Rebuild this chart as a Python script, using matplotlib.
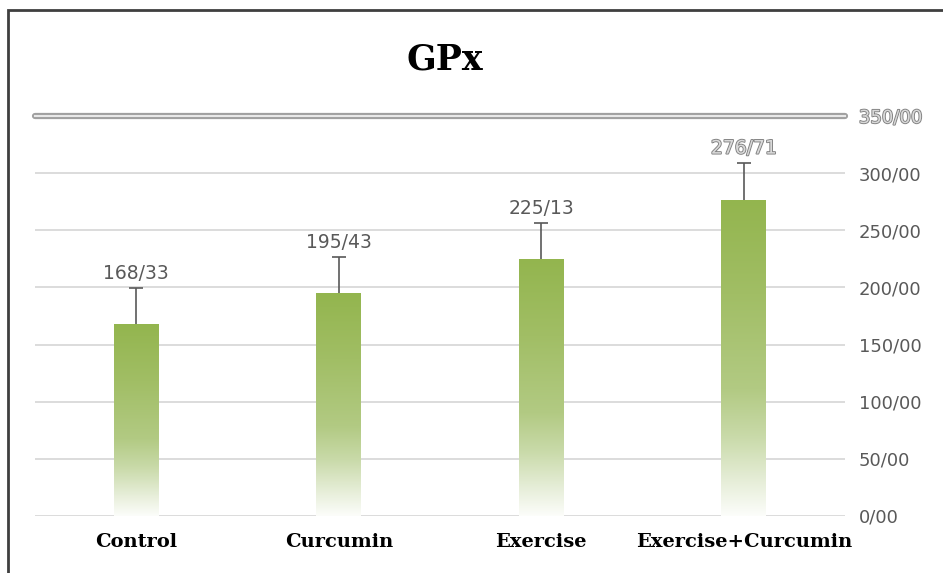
import matplotlib
matplotlib.use("Agg")
import matplotlib.pyplot as plt
import matplotlib.patheffects as pe
from matplotlib.colors import LinearSegmentedColormap
from matplotlib.patches import Rectangle
import numpy as np

# data
groups = ["Control", "Curcumin", "Exercise", "Exercise+Curcumin"]
means = [168.33, 195.43, 225.13, 276.71]
errs = [31, 31, 31, 32]
yticks = [0, 50, 100, 150, 200, 250, 300, 350]


def slash(v):
    # decimal separator is written as "/"
    return f"{v:.2f}".replace(".", "/")


fig = plt.figure(figsize=(9.43, 5.73), dpi=100)
ax = fig.add_axes([35 / 943, 1 - 516 / 573, 810 / 943, 400 / 573])

# frame around the whole chart
fig.patches.append(Rectangle((8 / 943, -0.01), 1.0, 1 - 10 / 573 + 0.01,
                             transform=fig.transFigure, fill=False,
                             edgecolor="#3f3f3f", linewidth=2))

x = np.arange(len(groups))
bars = ax.bar(x, means, width=0.22, color="none", edgecolor="none", zorder=3)

# vertical gradient inside each bar
grad = LinearSegmentedColormap.from_list("g", [
    (0.0, "#93b54e"), (0.3, "#a1be65"), (0.6, "#b2ca83"),
    (0.75, "#c9daa9"), (0.9, "#e8efdb"), (1.0, "#fcfdfa")])
g = np.linspace(0, 1, 256).reshape(-1, 1)
for b in bars:
    im = ax.imshow(g, cmap=grad, aspect="auto", zorder=3,
                   extent=[b.get_x(), b.get_x() + b.get_width(), 0, b.get_height()],
                   origin="upper", interpolation="bilinear")
    im.set_clip_path(b)

eb = ax.errorbar(x, means, yerr=[[0] * len(x), errs], fmt="none", ecolor="#595959",
                 elinewidth=1.2, capsize=5, capthick=1.2, zorder=4)
# keep only the upper caps
eb[1][0].set_visible(False)

for i, (m, e) in enumerate(zip(means, errs)):
    t = ax.annotate(slash(m), (x[i], m + e), xytext=(0, 4), textcoords="offset points",
                    ha="center", va="bottom", fontsize=13.5, color="#595959",
                    family="DejaVu Sans", zorder=5)
    if m + e > 300:
        t.set_color("#d9d9d9")
        t.set_path_effects([pe.withStroke(linewidth=1.3, foreground="#7f7f7f")])

ax.set_xlim(-0.5, len(groups) - 0.5)
ax.set_ylim(0, 350)
ax.set_yticks(yticks)
ax.set_yticklabels([slash(t) for t in yticks])
ax.yaxis.tick_right()
ax.tick_params(axis="y", length=0, pad=10, labelsize=13, labelcolor="#595959")
ax.tick_params(axis="x", length=0, pad=12)
ax.set_xticks(x)
ax.set_xticklabels(groups, family="DejaVu Serif", fontweight="bold", fontsize=14,
                   color="black")
# top tick label looks embossed
top_lab = ax.get_yticklabels()[-1]
top_lab.set_color("#d9d9d9")
top_lab.set_path_effects([pe.withStroke(linewidth=1.3, foreground="#7f7f7f")])

for t in yticks[:-1]:
    ax.axhline(t, color="#dcdcdc", linewidth=1.4, zorder=1)
# double line at the top
ax.axhline(350, color="#a0a0a0", linewidth=4.5, zorder=2, clip_on=False,
           solid_capstyle="round")
ax.axhline(350, color="#e8e8e8", linewidth=1.5, zorder=2, clip_on=False)

for s in ax.spines.values():
    s.set_visible(False)

fig.text(445 / 943, 1 - 60 / 573, "GPx", ha="center", va="center",
         family="DejaVu Serif", fontsize=25, fontweight="bold", color="black")

fig.savefig("out.png", dpi=100)
